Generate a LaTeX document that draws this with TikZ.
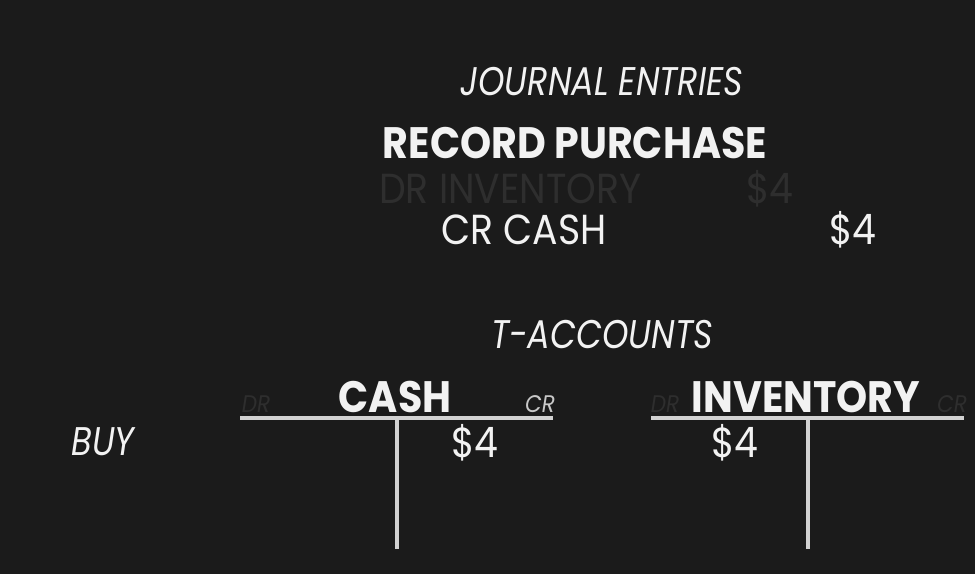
\documentclass[tikz,border=0pt]{standalone}
\usepackage{fontspec}
\setmainfont{Poppins}
\newfontfamily\narrowfont[FakeStretch=0.9]{Poppins}
\newfontfamily\slimfont[FakeStretch=0.84]{Poppins}

\definecolor{board}{RGB}{27,27,27}
\definecolor{chalk}{RGB}{242,242,242}
\definecolor{ghost}{RGB}{46,46,46}
\definecolor{dim}{RGB}{200,200,200}

\tikzset{
  heading/.style={text=chalk, font=\slimfont\fontsize{40}{40}\selectfont\itshape, inner sep=0pt},
  boldhead/.style={text=chalk, font=\narrowfont\fontsize{44}{44}\selectfont\bfseries, inner sep=0pt},
  entry/.style={text=chalk, font=\narrowfont\fontsize{42}{42}\selectfont, inner sep=0pt},
  sidetag/.style={font=\narrowfont\fontsize{24}{24}\selectfont\itshape, inner sep=0pt},
  tline/.style={draw=chalk!85!board, line width=4pt}
}

\begin{document}
\begin{tikzpicture}[x=1pt, y=-1pt]
    % Draw the board
    \fill[board] (0,0) rectangle (975,574);
    \useasboundingbox (0,0) rectangle (975,574);

    % Journal entries
    \node[heading] (jtitle) at (602,82) {JOURNAL ENTRIES};
    \node[boldhead] (record) at (575,143) {RECORD PURCHASE};
    \node[entry, text=ghost, anchor=west] (drinv) at (379,189) {DR INVENTORY};
    \node[entry, text=ghost] (drinvamt) at (770,189) {\$4};
    \node[entry, anchor=west] (crcash) at (441,230) {CR CASH};
    \node[entry] (crcashamt) at (853,230) {\$4};

    % T-accounts
    \node[heading] (ttitle) at (602,335) {T-ACCOUNTS};
    \node[heading] (buy) at (103,442) {BUY};

    % Cash account
    \node[boldhead] (cash) at (395,397) {CASH};
    \node[sidetag, text=ghost] (cashdr) at (256,404) {DR};
    \node[sidetag, text=dim] (cashcr) at (540,404) {CR};
    \coordinate (cashl) at (240,418);
    \coordinate (cashr) at (553,418);
    \coordinate (cashtop) at (397,418);
    \coordinate (cashbot) at (397,549);
    \draw[tline] (cashl) -- (cashr);
    \draw[tline] (cashtop) -- (cashbot);
    \node[entry] (cashamt) at (475,443) {\$4};

    % Inventory account
    \node[boldhead] (inv) at (806,397) {INVENTORY};
    \node[sidetag, text=ghost] (invdr) at (665,404) {DR};
    \node[sidetag, text=ghost] (invcr) at (952,404) {CR};
    \coordinate (invl) at (651,418);
    \coordinate (invr) at (964,418);
    \coordinate (invtop) at (808,418);
    \coordinate (invbot) at (808,549);
    \draw[tline] (invl) -- (invr);
    \draw[tline] (invtop) -- (invbot);
    \node[entry] (invamt) at (735,443) {\$4};
\end{tikzpicture}
\end{document}
